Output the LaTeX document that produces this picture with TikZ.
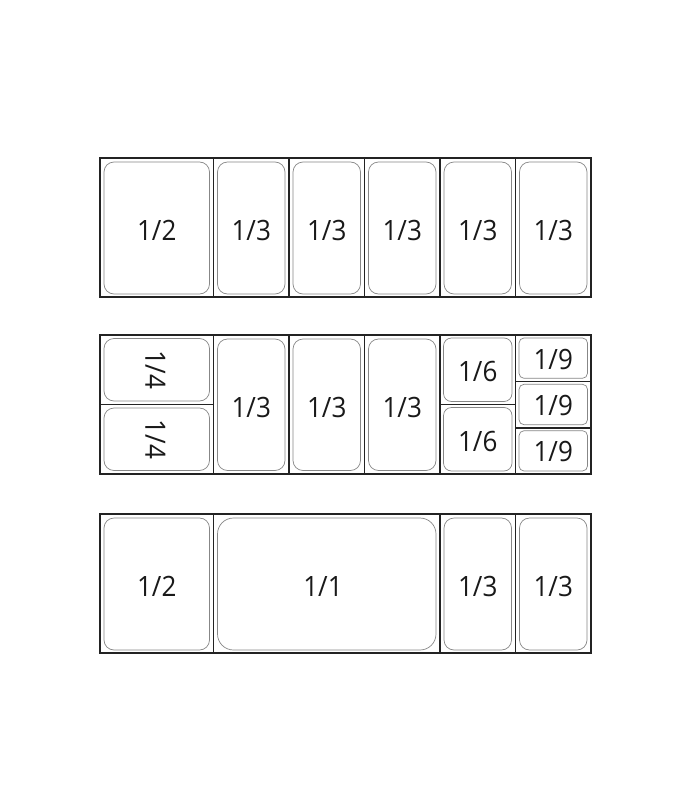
\documentclass[tikz,border=0pt]{standalone}
\usepackage{fontspec}
\setmainfont{Open Sans}
\usetikzlibrary{positioning}
\definecolor{framegray}{RGB}{35,35,35}
\definecolor{pangray}{RGB}{135,135,135}
\tikzset{
  frame/.style={line width=1.6pt, draw=framegray},
  pan/.style={line width=0.7pt, draw=pangray, rounded corners=#1},
  pan/.default=10pt,
  size/.style={font=\fontsize{28}{28}\selectfont, text=black!90, inner sep=0pt, xscale=0.93}
}

\begin{document}
\begin{tikzpicture}[x=1pt, y=-1pt]
    \useasboundingbox (0,0) rectangle (700,800);
    \fill[white] (0,0) rectangle (700,800);

    % top row: 1/2 + five 1/3
    \draw[frame] (100,158) rectangle (591,297);
    \foreach \x in {213.5,289,364.5,440,515.5}
        \draw[frame] (\x,158) -- (\x,297);
    \foreach \xa/\xb/\lbl [count=\i] in {100/213.5/{1/2}, 213.5/289/{1/3}, 289/364.5/{1/3},
                                         364.5/440/{1/3}, 440/515.5/{1/3}, 515.5/591/{1/3}} {
        \draw[pan] (\xa+4,162) rectangle (\xb-4,294);
        \node[size] (top\i) at ({(\xa+\xb)/2},230) {\lbl};
    }

    % middle row: 1/4, 1/3, 1/6, 1/9
    \draw[frame] (100,335) rectangle (591,474);
    \foreach \x in {213.5,289,364.5,440,515.5}
        \draw[frame] (\x,335) -- (\x,474);
    \draw[frame] (100,404.5) -- (213.5,404.5);
    \draw[frame] (440,404.5) -- (515.5,404.5);
    \draw[frame] (515.5,381.3) -- (591,381.3);
    \draw[frame] (515.5,427.7) -- (591,427.7);

    % 1/4
    \foreach \ya/\yb [count=\i] in {335/404.5, 404.5/474} {
        \draw[pan] (104,\ya+3.5) rectangle (209.5,\yb-3.5);
        \node[size, xscale=1/0.93, yscale=0.93, rotate=-90] (quarter\i) at (155.5,{(\ya+\yb)/2}) {1/4};
    }
    % 1/3
    \foreach \xa/\xb [count=\i] in {213.5/289, 289/364.5, 364.5/440} {
        \draw[pan] (\xa+4,339) rectangle (\xb-4,470.5);
        \node[size] (third\i) at ({(\xa+\xb)/2},407) {1/3};
    }
    % 1/6
    \foreach \ya/\yb [count=\i] in {335/404.5, 404.5/474} {
        \draw[pan=8pt] (443.5,\ya+3) rectangle (512,\yb-3);
        \node[size] (sixth\i) at (477.75,{(\ya+\yb)/2+2}) {1/6};
    }
    % 1/9
    \foreach \ya/\yb [count=\i] in {335/381.3, 381.3/427.7, 427.7/474} {
        \draw[pan=5pt] (519,\ya+3) rectangle (587.5,\yb-3);
        \node[size] (ninth\i) at (553.25,{(\ya+\yb)/2+1}) {1/9};
    }

    % bottom row: 1/2 + 1/1 + two 1/3
    \draw[frame] (100,514) rectangle (591,653);
    \foreach \x in {213.5,440,515.5}
        \draw[frame] (\x,514) -- (\x,653);
    \draw[pan] (104,518) rectangle (209.5,650);
    \node[size] (half) at (156.75,586) {1/2};
    \draw[pan=16pt] (217.5,518) rectangle (436,650);
    \node[size] (full) at (323,586) {1/1};
    \foreach \xa/\xb [count=\i] in {440/515.5, 515.5/591} {
        \draw[pan] (\xa+4,518) rectangle (\xb-4,650);
        \node[size] (low\i) at ({(\xa+\xb)/2},586) {1/3};
    }
\end{tikzpicture}
\end{document}
